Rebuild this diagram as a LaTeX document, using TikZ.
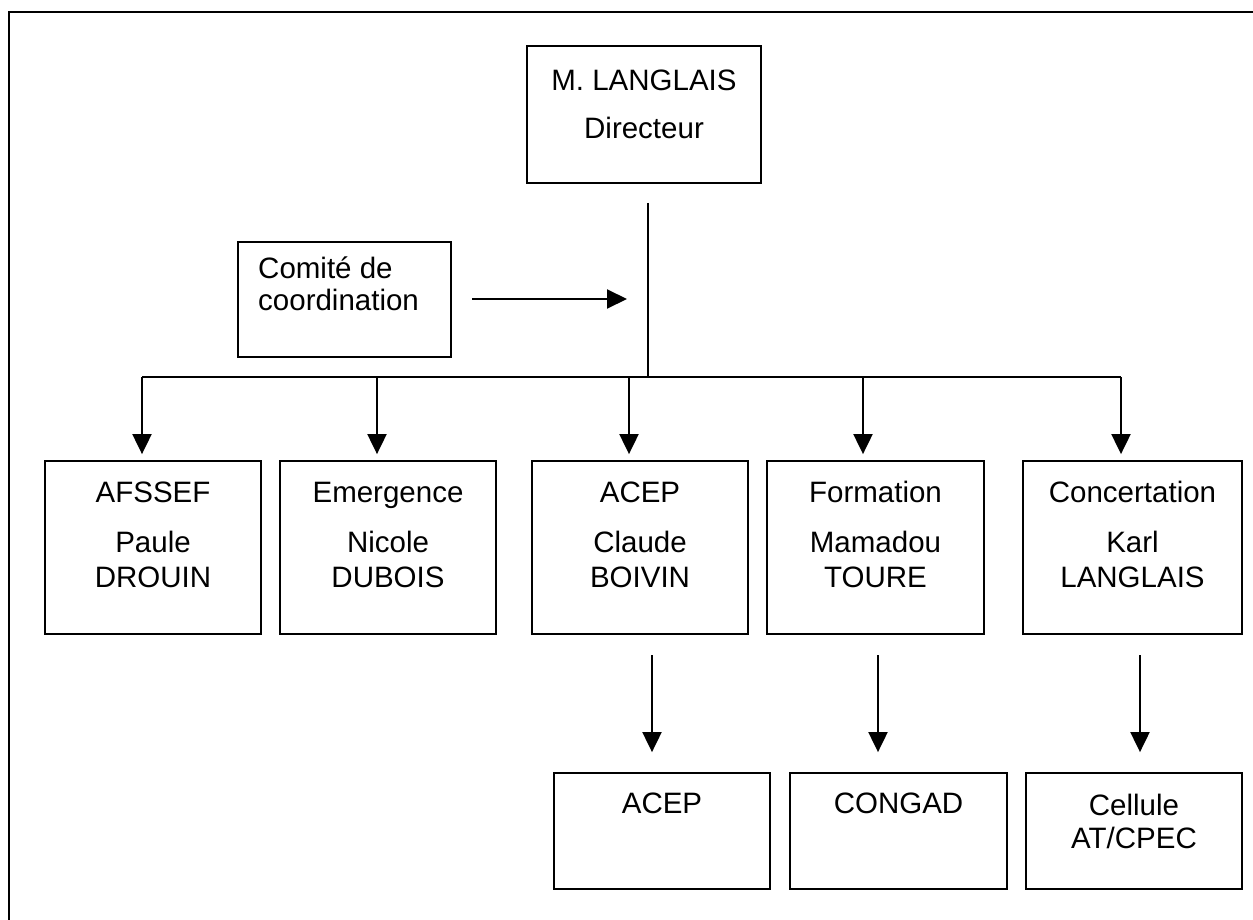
\documentclass[tikz,border=0pt]{standalone}
\usepackage{fontspec}
\setmainfont{Liberation Sans}
\usetikzlibrary{arrows.meta}
\begin{document}
\begin{tikzpicture}[x=1pt,y=-1pt,
  box/.style={draw, line width=1.8pt, inner sep=0pt},
  txt/.style={inner sep=0pt, font=\fontsize{29.5}{35}\selectfont, text height=21pt, text depth=0pt},
  conn/.style={line width=2pt},
  arr/.style={line width=2pt, -{Triangle[length=20pt,width=19pt]}},
  frame/.style={line width=2.8pt}
]
\useasboundingbox (0,0) rectangle (1253,920);
% outer frame (top and left edges visible)
\coordinate (fbl) at (9,920);
\coordinate (ftl) at (9,12);
\coordinate (ftr) at (1253,12);
\draw[frame] (fbl) -- (ftl) -- (ftr);

% boxes
\node[box, minimum width=234pt, minimum height=137pt] (dir) at (644,114.5) {};
\node[box, minimum width=213pt, minimum height=115pt] (com) at (344.5,299.5) {};
\node[box, minimum width=216pt, minimum height=173pt] (afssef) at (153,547.5) {};
\node[box, minimum width=216pt, minimum height=173pt] (emer) at (388,547.5) {};
\node[box, minimum width=216pt, minimum height=173pt] (acep) at (640,547.5) {};
\node[box, minimum width=217pt, minimum height=173pt] (form) at (875.5,547.5) {};
\node[box, minimum width=219pt, minimum height=173pt] (conc) at (1132.5,547.5) {};
\node[box, minimum width=216pt, minimum height=116pt] (acepb) at (662,831) {};
\node[box, minimum width=217pt, minimum height=116pt] (congad) at (898.5,831) {};
\node[box, minimum width=216pt, minimum height=116pt] (cell) at (1134,831) {};

% texts
\node[txt] (dir1) at (644,80) {M. LANGLAIS};
\node[txt] (dir2) at (644,128) {Directeur};
\node[txt, anchor=west] (com1) at (258,268) {Comité de};
\node[txt, anchor=west] (com2) at (258,300) {coordination};

\node[txt] (afssef1) at (153,492) {AFSSEF};
\node[txt] (afssef2) at (153,542) {Paule};
\node[txt] (afssef3) at (153,577) {DROUIN};
\node[txt] (emer1) at (388,492) {Emergence};
\node[txt] (emer2) at (388,542) {Nicole};
\node[txt] (emer3) at (388,577) {DUBOIS};
\node[txt] (acep1) at (640,492) {ACEP};
\node[txt] (acep2) at (640,542) {Claude};
\node[txt] (acep3) at (640,577) {BOIVIN};
\node[txt] (form1) at (875.5,492) {Formation};
\node[txt] (form2) at (875.5,542) {Mamadou};
\node[txt] (form3) at (875.5,577) {TOURE};
\node[txt] (conc1) at (1132.5,492) {Concertation};
\node[txt] (conc2) at (1132.5,542) {Karl};
\node[txt] (conc3) at (1132.5,577) {LANGLAIS};

\node[txt] (acepb1) at (662,803) {ACEP};
\node[txt] (congad1) at (898.5,803) {CONGAD};
\node[txt] (cell1) at (1134,805) {Cellule};
\node[txt] (cell2) at (1134,838) {AT/CPEC};

% connectors
\coordinate (vtop) at (648,203);
\coordinate (bus) at (648,377);
\coordinate (b1) at (142,377);
\coordinate (b2) at (377,377);
\coordinate (b3) at (629,377);
\coordinate (b4) at (863,377);
\coordinate (b5) at (1121,377);
\draw[conn] (vtop) -- (bus);
\draw[conn] (b1) -- (b5);
\draw[arr, shorten >=6pt] (b1) -- (b1 |- afssef.north);
\draw[arr, shorten >=6pt] (b2) -- (b2 |- emer.north);
\draw[arr, shorten >=6pt] (b3) -- (b3 |- acep.north);
\draw[arr, shorten >=6pt] (b4) -- (b4 |- form.north);
\draw[arr, shorten >=6pt] (b5) -- (b5 |- conc.north);

\coordinate (ca) at (472,299);
\coordinate (cb) at (627,299);
\draw[arr] (ca) -- (cb);

\coordinate (l1) at (652,655);
\coordinate (l2) at (878,655);
\coordinate (l3) at (1140,655);
\draw[arr, shorten >=20pt] (l1) -- (l1 |- acepb.north);
\draw[arr, shorten >=20pt] (l2) -- (l2 |- congad.north);
\draw[arr, shorten >=20pt] (l3) -- (l3 |- cell.north);
\end{tikzpicture}
\end{document}
